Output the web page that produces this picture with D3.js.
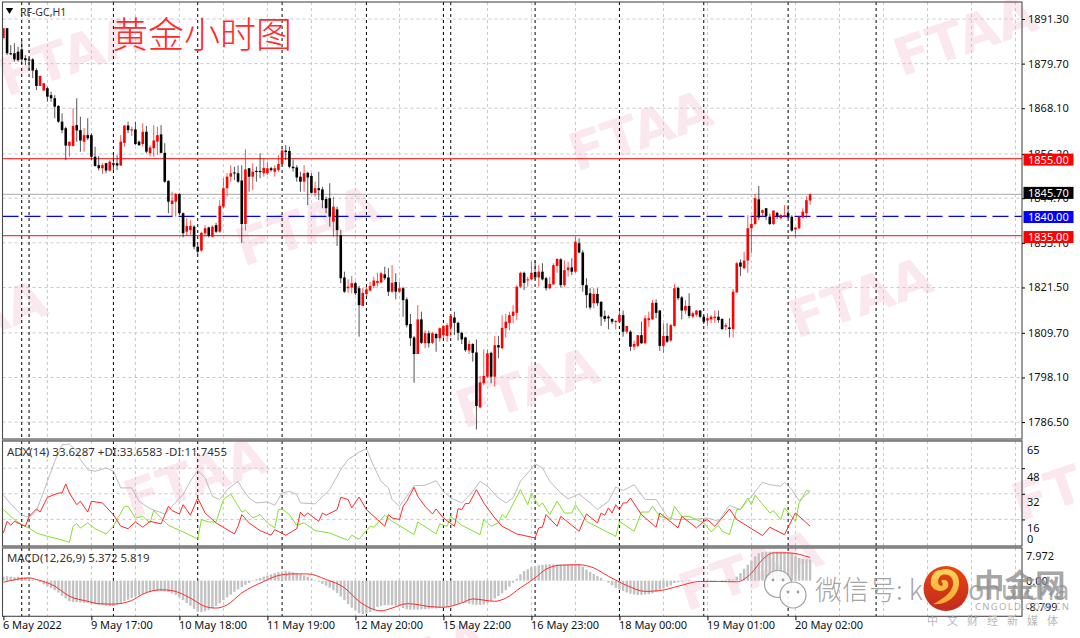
<!DOCTYPE html>
<html><head><meta charset="utf-8">
<script src="https://d3js.org/d3.v7.min.js"></script>
<style>
html,body{margin:0;padding:0;background:#fff;overflow:hidden}
svg{display:block}
text{font-family:"Noto Sans",sans-serif}
</style></head><body>
<svg id="c" width="1080" height="638"></svg>
<script>
const opens=[1886.3,1888.9,1882.4,1882.4,1882.8,1883.4,1881.1,1880.8,1880.8,1878.0,
1873.9,1872.7,1873.3,1871.5,1870.7,1868.7,1864.6,1862.9,1858.3,1858.3,
1863.7,1862.4,1859.4,1861.1,1861.1,1855.5,1853.3,1852.5,1853.8,1851.9,
1853.8,1853.8,1853.2,1859.1,1863.6,1862.3,1862.6,1859.4,1858.8,1862.0,
1856.4,1857.7,1859.4,1861.3,1856.5,1849.2,1843.2,1843.8,1845.8,1840.8,
1836.0,1836.4,1837.3,1832.1,1831.1,1835.6,1837.1,1834.7,1837.7,1836.0,
1842.5,1847.3,1850.3,1851.4,1851.2,1849.3,1838.0,1852.5,1850.3,1851.8,
1851.8,1851.2,1851.2,1852.5,1851.6,1852.0,1853.6,1857.1,1857.0,1852.9,
1852.7,1850.3,1849.0,1851.3,1850.5,1846.1,1847.3,1847.0,1844.5,1844.7,
1838.6,1841.8,1835.1,1824.1,1821.3,1821.5,1822.6,1821.3,1816.7,1819.8,
1820.7,1821.9,1822.7,1822.8,1824.9,1824.1,1820.4,1822.9,1820.4,1821.3,
1818.4,1812.0,1808.5,1804.2,1813.2,1807.0,1809.6,1807.1,1809.4,1808.3,
1809.1,1808.9,1811.1,1813.7,1812.3,1809.7,1808.5,1805.1,1806.8,1804.6,
1790.3,1796.6,1798.3,1804.5,1798.3,1806.5,1805.7,1810.9,1812.3,1814.1,
1814.9,1821.7,1825.3,1823.4,1823.6,1825.5,1824.1,1825.6,1823.9,1821.3,
1822.3,1827.1,1828.8,1822.1,1826.0,1826.7,1825.6,1833.0,1830.6,1822.1,
1820.0,1817.4,1819.8,1817.8,1814.1,1813.9,1813.3,1812.5,1812.6,1814.3,
1810.0,1810.0,1806.1,1806.3,1809.1,1807.0,1813.0,1813.2,1817.5,1815.5,
1806.3,1808.9,1807.7,1811.5,1821.4,1818.9,1815.5,1816.7,1813.9,1814.4,
1815.5,1813.9,1812.9,1813.2,1813.5,1813.9,1813.3,1811.3,1811.1,1810.7,
1820.2,1828.0,1826.5,1828.5,1836.9,1838.0,1844.4,1840.9,1842.1,1839.9,
1838.0,1840.9,1839.5,1839.9,1840.8,1839.9,1836.6,1836.9,1839.7,1840.8,
1844.1];
const highs=[1888.9,1888.9,1884.5,1885.0,1884.1,1885.8,1881.9,1881.3,1881.1,1878.5,
1876.5,1874.6,1873.7,1872.4,1871.5,1868.9,1866.8,1863.3,1859.4,1868.1,
1870.7,1865.9,1862.9,1865.5,1861.6,1858.1,1855.7,1853.9,1853.9,1854.6,
1855.9,1855.9,1861.1,1863.7,1864.6,1863.3,1864.6,1859.7,1864.2,1863.5,
1858.5,1863.7,1863.3,1863.7,1859.0,1849.4,1846.4,1846.1,1846.1,1841.0,
1839.5,1839.0,1837.7,1832.5,1836.0,1837.7,1837.3,1837.7,1838.3,1844.2,
1849.9,1851.2,1853.3,1852.9,1853.2,1853.3,1857.4,1852.5,1853.8,1852.9,
1856.4,1855.1,1854.2,1852.9,1853.3,1855.9,1858.1,1858.5,1858.1,1854.8,
1853.3,1851.6,1853.3,1851.6,1851.2,1849.0,1851.6,1847.7,1845.1,1848.6,
1845.1,1842.5,1836.4,1825.6,1823.6,1824.5,1823.0,1821.9,1821.3,1821.7,
1823.0,1824.3,1825.3,1825.6,1826.9,1826.5,1827.3,1825.2,1823.0,1821.7,
1818.9,1814.6,1808.9,1816.9,1815.2,1810.4,1810.3,1810.0,1809.6,1811.1,
1811.7,1812.2,1814.5,1815.2,1812.6,1810.0,1808.7,1807.7,1807.0,1808.0,
1798.5,1805.4,1805.4,1804.8,1808.9,1808.9,1814.3,1814.6,1815.2,1816.9,
1822.1,1825.6,1825.6,1824.3,1828.2,1828.5,1827.3,1827.8,1824.3,1824.3,
1827.8,1829.1,1829.1,1828.5,1828.2,1829.1,1834.7,1834.3,1831.2,1823.9,
1821.3,1821.3,1821.3,1817.8,1815.5,1814.3,1813.5,1813.0,1815.5,1815.5,
1811.5,1810.4,1807.7,1809.1,1812.6,1814.3,1815.2,1818.2,1818.4,1815.6,
1812.2,1812.2,1812.0,1822.4,1821.7,1819.3,1818.2,1820.0,1815.2,1815.6,
1815.6,1814.3,1814.8,1814.3,1815.5,1815.5,1813.5,1812.3,1813.5,1821.1,
1828.2,1828.8,1830.8,1840.3,1840.1,1845.8,1847.9,1841.8,1842.1,1840.6,
1841.5,1841.2,1840.6,1842.9,1842.9,1840.3,1837.1,1840.1,1842.1,1845.3,
1846.0];
const lows=[1886.3,1881.9,1881.9,1880.2,1880.2,1879.6,1879.3,1878.0,1875.9,1872.8,
1873.9,1872.7,1869.8,1869.8,1865.5,1864.3,1861.6,1854.6,1855.5,1858.1,
1859.4,1856.8,1856.8,1859.8,1854.6,1852.9,1851.9,1851.0,1851.2,1851.6,
1852.0,1852.0,1853.1,1858.1,1861.6,1860.9,1858.5,1858.3,1858.1,1856.4,
1855.5,1855.5,1855.9,1856.4,1848.7,1840.8,1839.9,1839.9,1840.3,1834.5,
1835.1,1835.1,1831.4,1830.0,1830.8,1834.7,1834.5,1834.5,1835.6,1835.7,
1842.1,1845.1,1849.0,1849.4,1848.7,1833.1,1836.3,1846.4,1846.8,1849.0,
1849.9,1850.3,1850.7,1851.6,1850.3,1851.6,1853.3,1854.6,1852.5,1851.6,
1849.0,1846.4,1846.4,1842.9,1845.9,1845.1,1844.2,1842.1,1840.8,1837.3,
1834.7,1832.3,1822.6,1820.1,1820.1,1820.0,1819.5,1808.7,1816.7,1819.3,
1820.4,1821.3,1821.7,1822.6,1823.4,1819.3,1820.1,1818.4,1820.1,1813.9,
1811.1,1806.3,1796.7,1804.2,1806.8,1805.7,1805.9,1806.8,1804.8,1807.4,
1808.3,1807.4,1808.7,1809.1,1807.7,1806.8,1804.8,1804.2,1802.2,1784.6,
1790.1,1796.1,1797.9,1796.6,1795.7,1803.1,1805.4,1808.5,1810.4,1812.2,
1813.0,1821.3,1820.8,1821.7,1823.4,1823.6,1821.7,1823.3,1820.7,1821.0,
1822.1,1825.3,1821.5,1821.7,1824.3,1824.7,1825.3,1830.4,1820.4,1816.1,
1815.8,1816.1,1816.7,1811.5,1812.6,1810.6,1812.0,1810.6,1812.3,1808.7,
1809.4,1805.0,1805.2,1805.9,1806.8,1806.8,1811.3,1813.0,1813.5,1805.0,
1804.5,1807.1,1807.4,1811.3,1818.2,1813.2,1814.6,1813.5,1813.5,1813.9,
1813.5,1812.0,1811.5,1812.2,1812.3,1812.3,1810.4,1810.4,1808.5,1808.5,
1820.2,1824.5,1826.2,1825.3,1830.4,1837.7,1839.0,1839.9,1839.0,1837.7,
1837.7,1839.2,1839.2,1839.7,1839.5,1836.0,1834.5,1836.6,1839.5,1839.5,
1843.0];
const closes=[1888.9,1882.4,1882.1,1880.8,1880.6,1880.8,1880.6,1880.5,1877.9,1873.9,
1876.5,1874.6,1871.1,1870.7,1868.5,1864.6,1862.4,1858.4,1859.4,1863.5,
1862.3,1859.7,1861.1,1860.3,1855.5,1853.1,1852.5,1853.3,1851.9,1854.2,
1853.4,1853.2,1859.4,1863.6,1862.4,1862.6,1858.8,1858.5,1862.0,1856.8,
1857.9,1859.7,1861.1,1856.5,1849.0,1843.8,1844.1,1845.8,1840.8,1835.6,
1837.5,1837.5,1832.1,1830.8,1835.7,1836.9,1834.9,1837.3,1836.0,1842.7,
1847.3,1850.3,1851.2,1851.2,1849.0,1838.0,1852.2,1850.3,1851.6,1851.5,
1851.5,1852.6,1852.5,1852.0,1852.5,1853.6,1857.1,1856.7,1852.9,1852.5,
1850.1,1849.0,1851.2,1850.1,1846.1,1847.3,1846.8,1844.2,1842.1,1839.9,
1842.5,1836.4,1823.9,1820.4,1821.7,1822.6,1820.0,1816.9,1820.1,1821.0,
1821.9,1823.3,1823.2,1825.2,1823.9,1820.4,1822.7,1820.4,1821.3,1818.2,
1811.7,1808.3,1804.2,1813.2,1807.1,1809.6,1807.0,1809.6,1808.3,1810.9,
1811.5,1811.7,1814.1,1812.3,1809.7,1808.0,1805.2,1806.8,1804.5,1790.7,
1796.8,1798.5,1804.4,1798.3,1806.5,1805.9,1811.0,1812.6,1814.3,1815.2,
1821.7,1825.3,1822.7,1823.6,1825.3,1824.1,1825.6,1823.6,1821.3,1822.4,
1827.3,1828.9,1822.1,1826.0,1826.7,1825.6,1833.4,1830.6,1822.1,1819.5,
1816.3,1819.8,1817.4,1813.9,1813.3,1813.5,1812.6,1812.8,1814.3,1810.0,
1811.5,1806.1,1806.8,1809.1,1807.0,1813.5,1813.5,1817.5,1814.9,1806.3,
1808.9,1807.4,1811.7,1821.3,1818.7,1815.5,1816.7,1814.1,1814.8,1815.5,
1813.9,1812.6,1813.5,1813.9,1813.9,1813.0,1810.7,1811.7,1810.7,1820.4,
1827.8,1826.9,1828.5,1836.9,1838.0,1844.7,1839.7,1841.6,1840.1,1838.0,
1841.5,1840.1,1840.3,1840.3,1839.7,1836.3,1837.1,1839.9,1841.2,1844.2,
1845.7];

const adxBars=[0,2,5,7,9,12,14,16,18,20,21,23,25,26,28,30,32,35,37,40,44,46,49,51,53,55,57,59,61,64,65,67,69,72,74,76,78,80,81,85,89,92,94,97,99,101,103,105,106,108,110,112,115,118,120,122,125,126,128,130,132,135,137,139,141,143,145,147,149,152,154,157,160,162,165,167,169,172,175,178,181,183,188,192,195,198,201,204,207,209,212,213,215,217,220];
const adxValues=[31.1,25.7,18.6,17.3,21.1,39.8,52.3,62.7,63.1,58.6,53.4,47.1,46.1,46.7,48.2,46.1,35.7,35.7,27.3,22.7,19.4,24.2,31.5,39.8,46.7,41.9,30.4,28.4,34.6,39.8,35.7,29.4,26.3,26.9,24.8,32.5,33.6,31.5,26.3,25.7,34.6,47.1,53.4,58.0,60.2,49.2,39.8,35.7,28.4,24.2,30.4,37.1,37.3,40.2,33.6,29.4,26.3,28.4,33.6,39.8,36.7,29.4,26.3,29.4,39.8,45.0,50.7,48.2,39.8,32.5,28.8,31.9,26.3,22.1,27.3,36.3,34.0,37.7,28.4,28.4,17.9,15.9,15.9,16.9,14.8,24.8,22.1,30.4,39.2,37.7,36.7,39.2,34.6,27.7,33.63];
const plusDiBars=[0,3,5,7,9,12,15,18,19,20,21,23,25,28,30,33,34,36,38,40,41,43,45,49,53,54,56,58,60,62,65,66,68,70,72,74,75,76,78,80,82,85,89,94,95,97,100,101,104,106,112,113,118,119,121,122,125,130,131,133,135,136,137,141,143,144,146,147,149,151,153,155,156,159,167,168,172,174,176,177,179,182,183,185,187,191,193,195,196,198,200,201,203,204,205,209,210,212,213,216,217,219,220];
const plusDiValues=[22.1,15.9,12.7,10.6,7.5,5.4,3.8,1.7,11.7,13.4,10.6,13.8,10.2,6.9,11.7,24.2,24.2,16.9,17.9,13.8,21.7,16.9,12.3,8.2,3.8,15.9,14.4,14.4,28.4,31.9,20.6,21.7,16.9,19.0,13.8,10.6,22.1,22.5,19.0,12.3,13.8,9.0,7.5,2.9,6.1,3.6,11.7,11.1,18.6,14.8,6.5,14.4,6.9,13.2,11.7,17.9,12.3,6.5,15.9,11.7,13.8,19.0,16.9,34.6,25.2,32.5,24.2,26.3,19.0,27.3,20.0,20.0,25.2,14.8,5.4,14.8,8.6,20.6,20.6,24.2,17.9,15.9,24.2,17.9,17.9,13.8,8.2,12.3,8.6,6.5,22.1,22.1,29.4,25.2,31.1,20.0,21.5,15.9,23.2,14.8,26.3,34.0,33.66];
const minusDiBars=[0,1,2,3,6,7,9,10,12,15,16,17,18,20,21,23,24,27,30,32,34,36,38,40,43,45,46,48,49,51,53,55,58,63,64,65,67,70,73,74,77,80,81,82,83,86,87,88,91,92,94,95,97,99,102,104,105,106,108,109,110,112,113,115,117,118,120,123,124,125,126,127,129,131,134,136,140,145,146,147,148,151,152,157,159,162,163,164,165,166,167,168,169,170,171,174,178,179,184,185,189,191,192,194,196,198,200,207,209,213,216,220];
const minusDiValues=[7.5,14.8,12.3,14.8,11.7,17.9,22.5,20.6,29.8,32.5,32.5,38.2,32.5,25.2,27.3,20.6,27.3,26.3,19.0,11.7,10.2,14.4,11.1,14.8,13.2,24.2,21.5,19.4,25.2,18.6,29.4,20.0,13.8,6.9,11.7,19.0,13.8,9.0,6.1,9.6,6.1,10.2,20.6,17.9,20.0,14.8,20.0,18.6,22.1,29.8,28.4,23.2,30.0,22.1,15.9,11.7,19.0,16.9,15.9,24.2,27.3,36.1,30.4,24.2,19.4,22.5,16.9,11.7,22.7,22.1,25.9,25.9,34.6,26.3,16.9,11.7,6.9,4.4,10.7,11.1,19.0,11.7,17.9,8.6,19.4,13.8,20.0,18.6,23.2,20.0,25.2,22.1,26.3,26.3,29.4,19.0,11.1,20.0,10.7,17.9,10.7,14.8,15.9,11.7,16.9,22.5,15.9,5.9,11.1,6.5,20.0,11.75];

const signalBars=[0,4,7,9,14,18,23,26,30,35,38,43,46,51,55,58,61,65,71,75,79,83,88,93,97,100,103,106,110,112,116,120,125,128,134,137,141,145,148,152,157,161,165,170,175,179,184,190,195,200,204,207,210,214,220];
const signalValues=[-0.4,0.4,0.7,0.3,-1.4,-3.9,-5.2,-5.8,-5.9,-5.0,-3.4,-2.3,-2.5,-4.4,-6.5,-6.9,-6.1,-3.1,-0.2,1.3,1.7,1.7,0.3,-1.8,-5.2,-6.9,-7.6,-6.9,-5.8,-5.9,-6.5,-6.7,-5.6,-4.6,-5.2,-4.4,-1.8,0.7,2.9,3.9,4.0,3.2,1.1,-1.2,-2.7,-2.5,-1.4,-0.2,-0.2,-0.3,1.9,5.3,7.0,7.0,5.82];
const macdValues=[1.0,1.1,1.0,0.9,1.0,0.9,0.8,0.6,0.3,0.1,
-0.3,-0.9,-1.4,-1.9,-2.4,-3.0,-3.8,-4.5,-5.2,-5.4,
-5.4,-5.5,-5.6,-5.6,-5.8,-5.9,-6.1,-6.2,-6.3,-6.4,
-6.4,-6.0,-5.6,-5.2,-4.8,-4.4,-4.0,-3.7,-3.4,-3.1,
-2.9,-2.7,-2.6,-2.6,-2.7,-2.9,-3.2,-3.6,-4.2,-4.9,
-5.6,-6.3,-7.1,-7.8,-7.9,-7.7,-7.4,-7.0,-6.4,-5.7,
-4.9,-4.2,-3.5,-2.8,-2.2,-1.6,-1.1,-0.6,-0.1,0.3,
0.7,1.0,1.3,1.6,1.9,2.1,2.3,2.4,2.3,2.1,
1.9,1.6,1.3,1.0,0.6,0.2,-0.3,-0.8,-1.3,-1.8,
-2.4,-3.1,-4.0,-4.9,-5.9,-6.8,-7.5,-8.2,-8.4,-8.3,
-7.9,-7.5,-6.6,-6.4,-6.2,-6.2,-6.2,-6.3,-6.5,-6.9,
-7.2,-7.3,-7.3,-7.3,-7.2,-7.2,-7.1,-7.0,-7.0,-6.9,
-6.8,-6.6,-6.3,-6.1,-5.8,-5.5,-5.6,-5.8,-6.0,-6.1,
-6.1,-6.0,-5.6,-5.1,-4.5,-3.9,-3.2,-2.4,-1.5,-0.5,
0.5,1.6,2.4,2.9,3.4,3.7,3.9,4.0,4.1,4.1,
4.1,4.1,4.1,4.1,4.1,4.2,4.2,4.2,3.5,2.8,
2.2,1.7,1.2,0.7,0.1,-0.5,-1.2,-1.8,-2.2,-2.6,
-3.0,-3.3,-3.5,-3.6,-3.6,-3.5,-3.4,-3.2,-2.9,-2.3,
-2.0,-1.6,-1.2,-0.6,-0.4,-0.2,-0.1,-0.1,-0.1,0.0,
0.0,0.0,0.1,0.1,0.1,0.0,0.1,0.2,0.4,0.3,
1.0,1.9,3.0,4.0,5.0,6.1,6.9,7.2,7.3,7.3,
7.3,7.3,7.3,7.3,7.2,6.9,6.1,5.8,5.5,5.4,
5.37];

const priceTicks=[1891.3,1879.7,1868.1,1856.2,1844.7,1833.1,1821.5,1809.7,1798.1,1786.5];
const adxGrid=[48,32,16];
const adxTickLabels=[["65",65,9],["48",48,9],["32",32,8],["16",16,9],["0",0,-6]];
const macdTickLabels=[["7.972",7.972,7],["0.00",0,0],["-8.799",-8.799,-8]];
const timeBars=[0,24,48,72,96,120,144,168,192,216];
const timeLabels=["6 May 2022","9 May 17:00","10 May 18:00","11 May 19:00","12 May 20:00","15 May 22:00","16 May 23:00","18 May 00:00","19 May 01:00","20 May 02:00"];
const separatorBars=[5,7,30,53,76,99,120,122,145,168,191,214,238];
const gridEvery=12, lastGridBar=276;
const levels=[{v:1855,c:"#ff3a3a",bg:"#ff0000",label:"1855.00",dy:1},{v:1845.7,c:"#b8b8b8",bg:"#000000",label:"1845.70",dy:-1.5},{v:1840,c:"#0000ff",bg:"#0000ff",dash:"16,6",label:"1840.00",dy:0.7},{v:1835,c:"#ff3a3a",bg:"#ff0000",label:"1835.00",dy:1.5}];
const marks=[[70,55],[640,130],[965,35],[307,225],[-25,320],[527,387],[860,297],[195,477],[1083,480],[750,570],[417,660]];

const svg=d3.select("#c");
const L=2.5,R=1022,TOP=2,B1=439,T2=441,B2=546,T3=548,B3=616.3;
const x=d3.scaleLinear().domain([0,278]).range([3.4,1022.8]);
const y=d3.scaleLinear().domain([1895.72,1782.1]).range([2,439]);
const yA=d3.scaleLinear().domain([65,0]).range([441,545]);
const yM=d3.scaleLinear().domain([7.972,-8.9]).range([549,616]);

svg.append("rect").attr("width",1080).attr("height",638).attr("fill","#fff");
const defs=svg.append("defs");
const grad=defs.append("linearGradient").attr("id","logoRed").attr("x1",0).attr("y1",0).attr("x2",0).attr("y2",1);
grad.append("stop").attr("offset",0).attr("stop-color","#e8470f");
grad.append("stop").attr("offset",1).attr("stop-color","#c12a1e");
const gradY=defs.append("linearGradient").attr("id","logoYellow").attr("x1",0).attr("y1",0).attr("x2",0).attr("y2",1);
gradY.append("stop").attr("offset",0).attr("stop-color","#fbd45c");
gradY.append("stop").attr("offset",1).attr("stop-color","#f2a72c");

// watermark
svg.append("g").selectAll("text").data(marks).join("text")
 .attr("transform",d=>`translate(${d[0]},${d[1]}) rotate(-19)`)
 .attr("text-anchor","middle").attr("dy","0.36em").attr("font-size",52).attr("font-weight",700)
 .attr("fill","#fbe8ee").style("font-family","'DejaVu Sans',sans-serif").text("FTAA");

const gridG=svg.append("g").attr("stroke","#c8c8c8").attr("stroke-width",1).attr("stroke-dasharray","3,3");
const vgrid=d3.range(gridEvery,lastGridBar+1,gridEvery);
[[TOP,B1],[T2,B2],[T3,B3]].forEach(([a,b])=>{
 gridG.append("g").selectAll("line").data(vgrid).join("line").attr("x1",d=>x(d)).attr("x2",d=>x(d)).attr("y1",a).attr("y2",b);
});
gridG.append("g").selectAll("line").data(priceTicks).join("line").attr("x1",L).attr("x2",R).attr("y1",d=>y(d)).attr("y2",d=>y(d));
gridG.append("g").selectAll("line").data(adxGrid).join("line").attr("x1",L).attr("x2",R).attr("y1",d=>yA(d)).attr("y2",d=>yA(d));

// separators
const sepG=svg.append("g").attr("stroke","#000").attr("stroke-width",1).attr("stroke-dasharray","3,3");
[[TOP,B1],[T2,B2],[T3,B3]].forEach(([a,b])=>{
 sepG.append("g").selectAll("line").data(separatorBars).join("line").attr("x1",d=>x(d)).attr("x2",d=>x(d)).attr("y1",a).attr("y2",b);
});

// price levels
svg.append("g").selectAll("line").data(levels).join("line").attr("x1",L).attr("x2",R)
 .attr("y1",d=>y(d.v)).attr("y2",d=>y(d.v)).attr("stroke",d=>d.c).attr("stroke-width",1.3)
 .attr("stroke-dasharray",d=>d.dash||null);

// candles
const bars=d3.range(opens.length);
const cg=svg.append("g");
cg.selectAll("line").data(bars).join("line")
 .attr("x1",i=>x(i)).attr("x2",i=>x(i)).attr("y1",i=>y(highs[i])).attr("y2",i=>y(lows[i]))
 .attr("stroke",i=>closes[i]>=opens[i]?"#ff0000":"#000").attr("stroke-width",0.9).attr("stroke-opacity",.75);
cg.selectAll("rect").data(bars).join("rect")
 .attr("x",i=>x(i)-1.3).attr("width",2.6)
 .attr("y",i=>Math.min(y(opens[i]),y(closes[i])))
 .attr("height",i=>Math.max(1,Math.abs(y(opens[i])-y(closes[i]))))
 .attr("fill",i=>closes[i]>=opens[i]?"#ff0000":"#000");

// ADX
const lineA=d3.line().x(d=>x(d[0])).y(d=>yA(d[1]));
[[adxBars,adxValues,"#b4b4b4",.9],[plusDiBars,plusDiValues,"#84e02e",1],[minusDiBars,minusDiValues,"#ff2a2a",1]].forEach(([a,b,c,w])=>{
 svg.append("path").datum(d3.zip(a,b)).attr("fill","none").attr("stroke",c).attr("stroke-width",w).attr("d",lineA);
});

// MACD
const zero=yM(0);
svg.append("g").selectAll("rect").data(macdValues).join("rect")
 .attr("x",(d,i)=>x(i)-1.2).attr("width",2.4)
 .attr("y",d=>Math.min(zero,yM(d))).attr("height",d=>Math.abs(yM(d)-zero))
 .attr("fill","#c2c2c2");
svg.append("path").datum(d3.zip(signalBars,signalValues)).attr("fill","none").attr("stroke","#ff2a2a").attr("stroke-width",1)
 .attr("d",d3.line().curve(d3.curveMonotoneX).x(d=>x(d[0])).y(d=>yM(d[1])));

// panel frames
const frame=svg.append("g").attr("fill","none");
frame.append("rect").attr("x",L-1).attr("y",439.5).attr("width",R-L+1).attr("height",1.8).attr("fill","#c8c8c8");
frame.append("rect").attr("x",L-1).attr("y",546).attr("width",R-L+1).attr("height",1.8).attr("fill","#c8c8c8");
[[TOP,B1],[T2,B2],[T3,B3]].forEach(([a,b])=>{
 frame.append("rect").attr("x",L).attr("y",a).attr("width",R-L).attr("height",b-a).attr("stroke","#4a4a4a").attr("stroke-width",1.1);
});

// axes
const axisTxt=(g,fs)=>{g.select(".domain").remove();g.selectAll("line").attr("stroke","#000");g.selectAll("text").attr("fill","#111").attr("font-size",fs).style("font-family","'Noto Sans',sans-serif");};
svg.append("g").attr("transform",`translate(${R},0)`)
 .call(d3.axisRight(y).tickValues(priceTicks).tickFormat(d3.format(".2f")).tickSize(3).tickPadding(2))
 .call(g=>axisTxt(g,11)).call(g=>g.selectAll("text").attr("x",6));
svg.append("g").attr("transform",`translate(${R},0)`)
 .call(d3.axisRight(yA).tickValues(adxGrid).tickFormat("").tickSize(3)).call(g=>axisTxt(g,11));
svg.append("g").selectAll("text").data(adxTickLabels).join("text").attr("x",1027).attr("y",d=>yA(d[1])+d[2]).attr("dy","0.35em").attr("font-size",11).attr("fill","#111").text(d=>d[0]);
svg.append("g").selectAll("text").data(macdTickLabels).join("text").attr("x",1026).attr("y",d=>yM(d[1])+d[2]).attr("dy","0.35em").attr("font-size",11).attr("fill","#111").text(d=>d[0]);
svg.append("g").attr("transform",`translate(0,${B3})`)
 .call(d3.axisBottom(x).tickValues(timeBars).tickFormat((d,i)=>timeLabels[i]).tickSize(4).tickPadding(0))
 .call(g=>axisTxt(g,11))
 .call(g=>g.selectAll("text").attr("text-anchor","start").attr("x",-1).attr("y",5));

// level boxes
const lb=svg.append("g").selectAll("g").data(levels).join("g").attr("transform",d=>`translate(1023.5,${y(d.v)+d.dy})`);
lb.append("rect").attr("x",0).attr("y",-6).attr("width",50).attr("height",12).attr("fill",d=>d.bg);
lb.append("text").attr("x",4.5).attr("dy","0.36em").attr("font-size",11).attr("fill","#fff").text(d=>d.label);

// titles
svg.append("path").attr("d",d3.symbol(d3.symbolTriangle,22)).attr("transform","translate(9.5,10) rotate(180)").attr("fill","#000");
svg.append("text").attr("x",20).attr("y",15.5).attr("font-size",10.5).attr("fill","#333").text("RF-GC,H1");
svg.append("text").attr("x",112).attr("y",48).attr("font-size",36).attr("font-weight",300).attr("fill","#ff2a2a").style("font-family","'Noto Sans CJK SC'").text("黄金小时图");
svg.append("text").attr("x",7).attr("y",456).attr("font-size",11.5).attr("fill","#333").text("ADX(14) 33.6287 +DI:33.6583 -DI:11.7455");
svg.append("text").attr("x",7).attr("y",562).attr("font-size",11.4).attr("fill","#333").text("MACD(12,26,9) 5.372 5.819");

// bottom-right publisher stamp
const st=svg.append("g");
st.append("circle").attr("cx",778).attr("cy",584).attr("r",13.5).attr("fill","#fff").attr("fill-opacity",.85).attr("stroke","#a0a0a0").attr("stroke-width",1.2);
st.append("circle").attr("cx",793).attr("cy",595).attr("r",13).attr("fill","#fff").attr("fill-opacity",.9).attr("stroke","#a0a0a0").attr("stroke-width",1.2);
[[773,580],[783,580],[788,592],[798,592]].forEach(p=>st.append("circle").attr("cx",p[0]).attr("cy",p[1]).attr("r",1.4).attr("fill","#a0a0a0"));
st.append("text").attr("x",815).attr("y",600).attr("font-size",27).attr("font-weight",300).attr("fill","#9a9a9a").attr("fill-opacity",.9).style("font-family","'Noto Sans CJK SC'").text("微信号: k");
st.append("text").attr("x",968).attr("y",600).attr("font-size",27).attr("fill","#9a9a9a").attr("fill-opacity",.8).text("ohuicha");
st.append("circle").attr("cx",946).attr("cy",588.5).attr("r",22.5).attr("fill","url(#logoRed)");
st.append("path").attr("d","M933,604 C948,606 960,594 959,581 C958,571 948,567 941,570 C933,570 930,578 931,585 C934,592 944,593 948,587 C950,581 944,578 941,581 C943,583 944,586 941,586 C937,585 937,577 942,575 C949,573 954,578 953,585 C951,594 941,600 933,604Z").attr("fill","url(#logoYellow)");
st.append("text").attr("x",974).attr("y",596).attr("font-size",30.5).attr("font-weight",700).attr("fill","#8e8e8e").attr("fill-opacity",.8).style("font-family","'Noto Sans CJK SC'").text("中金网");
st.append("text").attr("x",975).attr("y",610).attr("font-size",9.5).attr("letter-spacing",1.3).attr("fill","#b0b0b0").text("CNGOLD.COM.CN");
st.append("text").attr("x",927).attr("y",625).attr("font-size",11).attr("letter-spacing",9).attr("fill","#b8b8b8").style("font-family","'Noto Sans CJK SC'").text("中文财经新媒体");
</script>
</body></html>
